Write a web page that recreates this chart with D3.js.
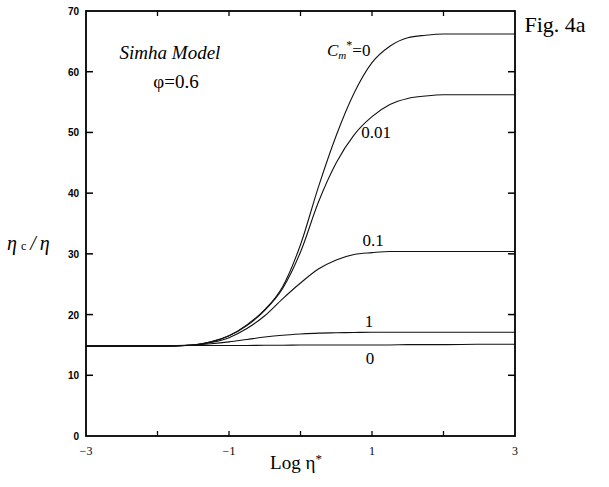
<!DOCTYPE html>
<html>
<head>
<meta charset="utf-8">
<script src="https://cdn.jsdelivr.net/npm/d3@7"></script>
<style>
  body { margin: 0; background: #fff; }
  svg { display: block; }
</style>
</head>
<body>
<script>
// log eta* sample points
var logEta = [-3, -2, -1.5, -1.25, -1, -0.75, -0.5, -0.25, 0, 0.25, 0.5, 0.75, 1, 1.25, 1.5, 1.75, 2, 2.5, 3];

// eta_c / eta for each Cm* value
var cm0    = [14.8, 14.8, 15.0, 15.5, 16.5, 18.3, 20.8, 24.6, 31.5, 41.0, 49.5, 56.5, 61.5, 64.2, 65.6, 66.0, 66.2, 66.2, 66.2];
var cm001  = [14.8, 14.8, 15.0, 15.5, 16.5, 18.2, 20.7, 24.3, 30.3, 38.5, 45.0, 49.6, 52.6, 54.6, 55.6, 56.0, 56.2, 56.2, 56.2];
var cm01   = [14.8, 14.8, 15.0, 15.4, 16.2, 17.7, 19.8, 22.6, 25.2, 27.5, 29.0, 29.9, 30.2, 30.4, 30.4, 30.4, 30.4, 30.4, 30.4];
var cm1    = [14.8, 14.85, 15.0, 15.2, 15.5, 15.9, 16.3, 16.6, 16.8, 16.95, 17.0, 17.05, 17.1, 17.1, 17.1, 17.1, 17.1, 17.1, 17.1];
var cmInf  = [14.85, 14.85, 14.9, 14.9, 14.9, 14.9, 14.95, 14.95, 15.0, 15.0, 15.0, 15.0, 15.0, 15.0, 15.05, 15.05, 15.05, 15.1, 15.1];

var yTicks = [0, 10, 20, 30, 40, 50, 60, 70];
var xTicks = [-3, -2, -1, 0, 1, 2, 3];
var xTickLabels = [-3, -1, 1, 3];

var width = 609, height = 487;
var svg = d3.select("body").append("svg")
    .attr("width", width)
    .attr("height", height);

var x = d3.scaleLinear().domain([-3, 3]).range([86, 515]);
var y = d3.scaleLinear().domain([0, 70]).range([436, 11]);

// curves
var line = d3.line()
    .x(function (d) { return x(d[0]); })
    .y(function (d) { return y(d[1]); })
    .curve(d3.curveMonotoneX);

[cm0, cm001, cm01, cm1, cmInf].forEach(function (s) {
    svg.append("path")
        .datum(logEta.map(function (v, i) { return [v, s[i]]; }))
        .attr("d", line)
        .attr("fill", "none")
        .attr("stroke", "#111")
        .attr("stroke-width", 1.1);
});

// frame
svg.append("rect")
    .attr("x", x(-3)).attr("y", y(70))
    .attr("width", x(3) - x(-3)).attr("height", y(0) - y(70))
    .attr("fill", "none").attr("stroke", "#000").attr("stroke-width", 1.8);

// y ticks, inward on both sides
svg.selectAll(".ytl").data(yTicks.slice(1, -1)).enter().append("line")
    .attr("x1", x(-3)).attr("x2", x(-3) + 7)
    .attr("y1", function (d) { return y(d); }).attr("y2", function (d) { return y(d); })
    .attr("stroke", "#000").attr("stroke-width", 1.5);
svg.selectAll(".ytr").data(yTicks.slice(1, -1)).enter().append("line")
    .attr("x1", x(3)).attr("x2", x(3) - 7)
    .attr("y1", function (d) { return y(d); }).attr("y2", function (d) { return y(d); })
    .attr("stroke", "#000").attr("stroke-width", 1.5);

svg.selectAll(".ylab").data(yTicks).enter().append("text")
    .attr("x", x(-3) - 7)
    .attr("y", function (d) { return y(d) + 4; })
    .attr("text-anchor", "end")
    .attr("style", "font-family: 'Liberation Sans', Arial, sans-serif; font-size: 10px; font-weight: bold;")
    .text(function (d) { return d; });

// x ticks, inward top and bottom
svg.selectAll(".xtb").data(xTicks.slice(1, -1)).enter().append("line")
    .attr("x1", function (d) { return x(d); }).attr("x2", function (d) { return x(d); })
    .attr("y1", y(0)).attr("y2", y(0) - 5)
    .attr("stroke", "#000").attr("stroke-width", 1.3);
svg.selectAll(".xtt").data(xTicks.slice(1, -1)).enter().append("line")
    .attr("x1", function (d) { return x(d); }).attr("x2", function (d) { return x(d); })
    .attr("y1", y(70)).attr("y2", y(70) + 5)
    .attr("stroke", "#000").attr("stroke-width", 1.3);

var serif = "font-family: 'Liberation Serif', 'Times New Roman', serif;";

svg.selectAll(".xlab").data(xTickLabels).enter().append("text")
    .attr("x", function (d) { return x(d); })
    .attr("y", 455)
    .attr("text-anchor", "middle")
    .attr("style", serif + " font-size: 12px;")
    .text(function (d) { return d < 0 ? "\u2212" + Math.abs(d) : d; });

// axis titles
var xt = svg.append("text").attr("x", 296).attr("y", 469).attr("text-anchor", "middle")
    .attr("style", serif + " font-size: 19px;");
xt.append("tspan").text("Log \u03b7");
xt.append("tspan").attr("dy", -6).attr("font-size", "13px").text("*");

var yt = svg.append("text").attr("x", 7).attr("y", 250)
    .attr("style", serif + " font-size: 20px;");
yt.append("tspan").attr("font-style", "italic").text("\u03b7");
yt.append("tspan").attr("font-size", "12px").attr("dx", 4).text("c");
yt.append("tspan").attr("dx", 4).attr("font-style", "italic").text("/");
yt.append("tspan").attr("dx", 4).attr("font-style", "italic").text("\u03b7");

// annotations
svg.append("text").attr("x", 555).attr("y", 32).attr("text-anchor", "middle")
    .attr("style", serif + " font-size: 22px;").text("Fig. 4a");
svg.append("text").attr("x", 170).attr("y", 59).attr("text-anchor", "middle")
    .attr("style", serif + " font-size: 19px; font-style: italic;").text("Simha Model");
svg.append("text").attr("x", 176).attr("y", 88).attr("text-anchor", "middle")
    .attr("style", serif + " font-size: 19px;").text("\u03c6=0.6");

var cl = svg.append("text").attr("x", 327).attr("y", 56)
    .attr("style", serif + " font-size: 17px;");
cl.append("tspan").attr("font-style", "italic").text("C");
cl.append("tspan").attr("font-style", "italic").attr("font-size", "11px").attr("dy", 3).text("m");
cl.append("tspan").attr("font-size", "12px").attr("dy", -10).text("*");
cl.append("tspan").attr("dy", 7).text("=0");

var curveLabels = [["0.01", 376, 138], ["0.1", 373, 246], ["1", 369, 327], ["0", 370, 364]];
svg.selectAll(".clab").data(curveLabels).enter().append("text")
    .attr("x", function (d) { return d[1]; })
    .attr("y", function (d) { return d[2]; })
    .attr("text-anchor", "middle")
    .attr("style", serif + " font-size: 17px;")
    .text(function (d) { return d[0]; });
</script>
</body>
</html>
